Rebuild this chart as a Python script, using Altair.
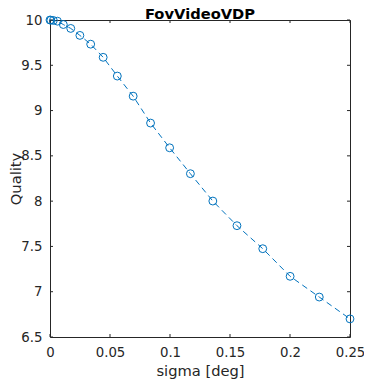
import altair as alt
import pandas as pd

title_text = ["FovVideoVDP"]
sigma = [0, 0.0007, 0.0028, 0.0062, 0.0111, 0.0173, 0.0249, 0.0339, 0.0443, 0.0561,
         0.0693, 0.0838, 0.0997, 0.117, 0.1357, 0.1558, 0.1773, 0.2001, 0.2244, 0.25]
quality = [10.0, 9.998, 9.995, 9.987, 9.95, 9.907, 9.83, 9.733, 9.588, 9.381,
           9.159, 8.862, 8.589, 8.303, 8.001, 7.729, 7.475, 7.170, 6.941, 6.70]
x_ticks = [0, 0.05, 0.1, 0.15, 0.2, 0.25]
y_ticks = [6.5, 7, 7.5, 8, 8.5, 9, 9.5, 10]

W, H = 300, 317
FONT = "DejaVu Sans"
TXT = "#262626"
BLUE = "#0072BD"

df = pd.DataFrame({"sigma": sigma, "quality": quality})
xt = pd.DataFrame({"sigma": x_ticks})
yt = pd.DataFrame({"quality": y_ticks})
tt = pd.DataFrame({"t": title_text})

xs = alt.Scale(domain=[0, 0.25], nice=False, zero=False)
ys = alt.Scale(domain=[6.5, 10], nice=False, zero=False)

xaxis = alt.Axis(values=x_ticks, format="~g", ticks=False, domain=False, grid=False,
                 labelFlush=False, labelBaseline="alphabetic", labelPadding=19,
                 labelFontSize=13.3, labelFont=FONT, labelColor=TXT,
                 titleFontSize=14.7, titleFont=FONT, titleColor=TXT, titleFontWeight="normal",
                 titleY=38, titleBaseline="alphabetic")
yaxis = alt.Axis(values=y_ticks, format="~g", ticks=False, domain=False, grid=False,
                 labelFlush=False, labelPadding=8,
                 labelFontSize=13.3, labelFont=FONT, labelColor=TXT,
                 titleFontSize=14.7, titleFont=FONT, titleColor=TXT, titleFontWeight="normal",
                 titleX=-30, titleY=H / 2, titleBaseline="alphabetic", titleAlign="center")

X = alt.X("sigma:Q", scale=xs, title="sigma [deg]", axis=xaxis)
Y = alt.Y("quality:Q", scale=ys, title="Quality", axis=yaxis)

line = alt.Chart(df).mark_line(color=BLUE, strokeWidth=1, strokeDash=[6, 4]).encode(x=X, y=Y)
pts = alt.Chart(df).mark_point(shape="circle", filled=False, color=BLUE, size=62,
                               strokeWidth=1, opacity=1).encode(x=X, y=Y)

def yrule(x0, x1):
    return alt.Chart(yt).mark_rule(color=TXT, strokeWidth=1).encode(
        y=Y, x=alt.value(x0), x2=alt.value(x1))

def xrule(y0, y1):
    return alt.Chart(xt).mark_rule(color=TXT, strokeWidth=1).encode(
        x=X, y=alt.value(y0), y2=alt.value(y1))

title = alt.Chart(tt).mark_text(font=FONT, fontSize=14.7, fontWeight="bold", color="#000000",
                                align="center", baseline="alphabetic").encode(
    text="t:N", x=alt.value(W / 2), y=alt.value(-1))

chart = alt.layer(
    line, pts, yrule(0, 3), yrule(W - 3, W), xrule(H - 3, H), xrule(0, 3), title
).properties(
    width=W, height=H,
    autosize=alt.AutoSizeParams(type="none"),
    padding={"left": 42, "top": 12, "right": 14, "bottom": 42},
    background="white",
).configure_view(stroke=TXT, strokeWidth=1)

chart.save("out.html", embed_options={"renderer": "svg", "actions": False})
